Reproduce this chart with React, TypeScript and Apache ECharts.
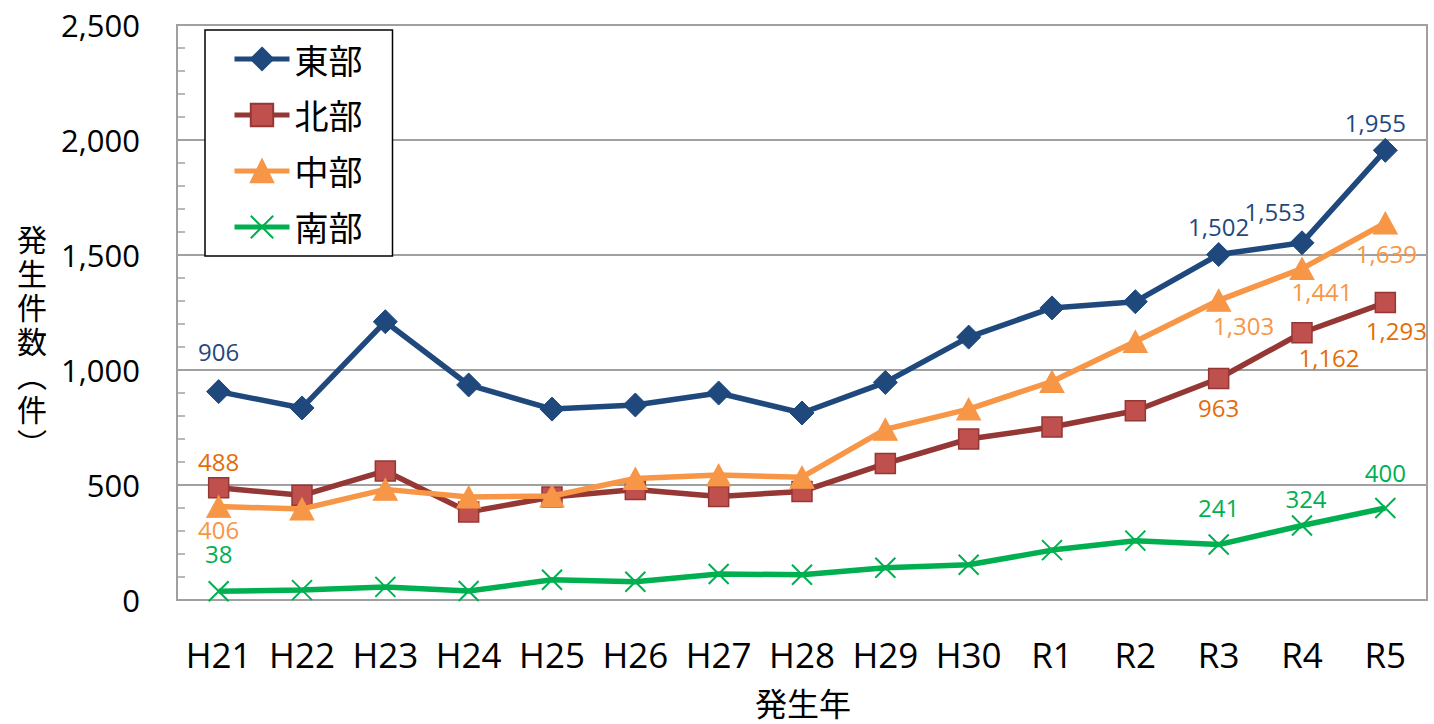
import React, { useEffect, useRef } from "react";
import * as echarts from "echarts";

const categories = ["H21", "H22", "H23", "H24", "H25", "H26", "H27", "H28", "H29", "H30", "R1", "R2", "R3", "R4", "R5"];
const seriesNames = ["東部", "北部", "中部", "南部"];
const east = [906, 835, 1210, 935, 830, 848, 900, 813, 946, 1143, 1270, 1297, 1502, 1553, 1955];
const north = [488, 455, 561, 383, 448, 480, 450, 472, 593, 700, 752, 823, 963, 1162, 1293];
const central = [406, 396, 481, 448, 452, 528, 543, 534, 742, 830, 950, 1124, 1303, 1441, 1639];
const south = [38, 43, 57, 39, 88, 79, 113, 110, 140, 153, 217, 258, 241, 324, 400];
const yTicks = [0, 500, 1000, 1500, 2000, 2500];
const yTitleChars = ["発", "生", "件", "数", "︵", "件", "︶"];
const xTitle = "発生年";

// label offsets (dx, dy) relative to point for labelled points
const eastLabels: Record<number, [number, number]> = { 0: [0, -40], 12: [0, -28], 13: [-27, -31], 14: [-10, -28] };
const northLabels: Record<number, [number, number]> = { 0: [0, -26], 12: [0, 29], 13: [27, 25], 14: [11, 28] };
const centralLabels: Record<number, [number, number]> = { 0: [0, 23], 12: [25, 25], 13: [20, 23], 14: [1, 30] };
const southLabels: Record<number, [number, number]> = { 0: [0, -38], 12: [0, -37], 13: [4, -27], 14: [0, -36] };

const NUM_FONT = "'Open Sans', 'Noto Sans', sans-serif";
const CJK_FONT = "'Noto Sans CJK JP', 'Noto Sans', sans-serif";
const fmt = (v: number) => v.toLocaleString("en-US");

function buildData(values: number[], labels: Record<number, [number, number]>, color: string) {
  return values.map((v, i) => {
    const l = labels[i];
    if (!l) return v;
    return {
      value: v,
      label: {
        show: true,
        position: "inside",
        offset: l,
        align: "center",
        verticalAlign: "middle",
        color,
        fontSize: 24,
        lineHeight: 22,
        fontFamily: NUM_FONT,
        formatter: (p: any) => fmt(p.value),
      },
    };
  });
}

export default function App() {
  const ref = useRef<HTMLDivElement>(null);
  useEffect(() => {
    if (!ref.current) return;
    const chart = echarts.init(ref.current, null, { renderer: "svg" });
    const gray = "#A0A0A0";
    const yTitle = yTitleChars.map((c, i) => ({
      type: "text",
      x: 32,
      y: 238 + i * 34,
      style: {
        text: c,
        font: `30px ${CJK_FONT}`,
        lineHeight: 32,
        fill: "#000",
        align: "center",
        verticalAlign: "middle",
      },
    }));
    const option: any = {
      animation: false,
      backgroundColor: "#ffffff",
      grid: {
        left: 177,
        right: 7,
        top: 25,
        bottom: 124,
        show: true,
        borderColor: gray,
        borderWidth: 2,
        containLabel: false,
      },
      legend: {
        orient: "vertical",
        left: 205,
        top: 30,
        data: seriesNames,
        backgroundColor: "#ffffff",
        borderColor: "#000000",
        borderWidth: 1.5,
        padding: [12, 30, 12, 27],
        itemWidth: 55,
        itemHeight: 28,
        itemGap: 22,
        itemTextGap: 6,
        lineStyle: { width: 5 },
        textStyle: { fontSize: 34, fontFamily: CJK_FONT, color: "#000" },
      },
      xAxis: {
        type: "category",
        data: categories,
        boundaryGap: true,
        axisLine: { show: true, lineStyle: { color: gray, width: 2 } },
        axisTick: { show: false },
        axisLabel: { interval: 0, fontSize: 35, fontFamily: NUM_FONT, color: "#000", margin: 37 },
        splitLine: { show: false },
      },
      yAxis: {
        type: "value",
        min: yTicks[0],
        max: yTicks[yTicks.length - 1],
        interval: 500,
        axisLine: { show: true, lineStyle: { color: gray, width: 2 } },
        axisTick: { show: true, inside: true, length: 8, lineStyle: { color: gray, width: 1.5 } },
        minorTick: { show: true, splitNumber: 5, length: 8, lineStyle: { color: gray, width: 1.5 } },
        axisLabel: {
          fontSize: 31,
          fontFamily: NUM_FONT,
          color: "#000",
          margin: 37,
          formatter: (v: number) => fmt(v),
        },
        splitLine: { show: true, lineStyle: { color: gray, width: 2 } },
      },
      graphic: [
        ...yTitle,
        {
          type: "text",
          x: 803,
          y: 702,
          style: {
            text: xTitle,
            font: `32px ${CJK_FONT}`,
            fill: "#000",
            align: "center",
            verticalAlign: "middle",
          },
        },
      ],
      series: [
        {
          name: seriesNames[0],
          type: "line",
          data: buildData(east, eastLabels, "#1F497D"),
          symbol: "diamond",
          symbolSize: 24,
          lineStyle: { color: "#1F497D", width: 5.5 },
          itemStyle: { color: "#1F497D", borderColor: "#1F497D", borderWidth: 1 },
          z: 2,
        },
        {
          name: seriesNames[1],
          type: "line",
          data: buildData(north, northLabels, "#E46C0A"),
          symbol: "rect",
          symbolSize: 20,
          lineStyle: { color: "#953735", width: 5.5 },
          itemStyle: { color: "#C0504D", borderColor: "#953735", borderWidth: 1.5 },
          z: 3,
        },
        {
          name: seriesNames[2],
          type: "line",
          data: buildData(central, centralLabels, "#F79646"),
          symbol: "triangle",
          symbolSize: [24, 22],
          lineStyle: { color: "#F79646", width: 5.5 },
          itemStyle: { color: "#F79646", borderColor: "#F79646", borderWidth: 1 },
          z: 4,
        },
        {
          name: seriesNames[3],
          type: "line",
          data: buildData(south, southLabels, "#00B050"),
          symbol: "path://M0,0L10,10M10,0L0,10",
          symbolSize: 20,
          lineStyle: { color: "#00B050", width: 5.5 },
          itemStyle: { color: "#00B050", borderColor: "#00B050", borderWidth: 2 },
          z: 5,
        },
      ],
    };
    chart.setOption(option);
    return () => chart.dispose();
  }, []);
  return (
    <div
      ref={ref}
      style={{ position: "absolute", left: 0, top: 0, width: 1434, height: 724, background: "#fff" }}
    />
  );
}
